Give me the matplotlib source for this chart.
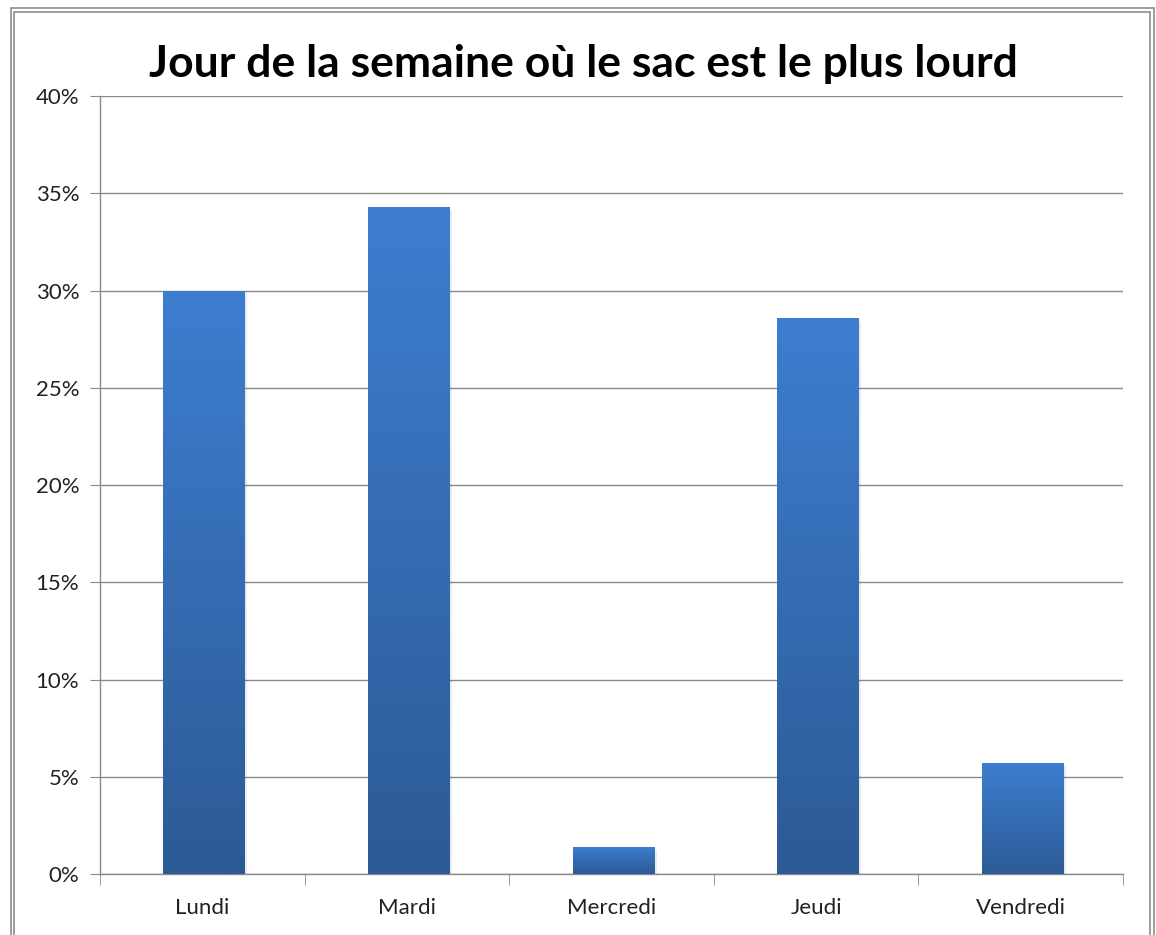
import numpy as np
import matplotlib.pyplot as plt
from matplotlib.patches import Rectangle
from matplotlib.colors import LinearSegmentedColormap

jours = ['Lundi', 'Mardi', 'Mercredi', 'Jeudi', 'Vendredi']
pourcentages = [30.0, 34.3, 1.4, 28.6, 5.7]
yticks = [0, 5, 10, 15, 20, 25, 30, 35, 40]

plt.rcParams['font.family'] = ['Lato', 'DejaVu Sans']

W, H = 1156, 935
fig = plt.figure(figsize=(W / 100, H / 100), dpi=100)

# cadre double autour du graphique (en pixels)
for left, top, right in [(10.5, 8.5, 1153.5), (14, 12, 1150)]:
    fig.patches.append(Rectangle((left / W, -0.05), (right - left) / W, 1 - top / H + 0.05,
                                 transform=fig.transFigure, fill=False,
                                 edgecolor='#8c8c8c', linewidth=1.2))

ax = fig.add_axes([0.0865, 0.0652, 0.885, 0.8321])
x = np.arange(len(jours))
bars = ax.bar(x + 0.01, pourcentages, width=0.4, color='none', zorder=3)

grad = LinearSegmentedColormap.from_list('bleu', ['#2c5a95', '#3d7ed0'])
g = np.linspace(0, 1, 256).reshape(-1, 1)
for b in bars:
    x0, y0 = b.get_x(), b.get_y()
    w, h = b.get_width(), b.get_height()
    # ombre legere
    ax.add_patch(Rectangle((x0 + 0.01, y0 - 0.15), w, h, facecolor='#000000',
                           alpha=0.08, edgecolor='none', zorder=2))
    im = ax.imshow(g, cmap=grad, origin='lower', aspect='auto',
                   extent=(x0, x0 + w, y0, y0 + h), zorder=3)
    im.set_clip_path(b)

ax.set_xlim(-0.5, len(jours) - 0.5)
ax.set_ylim(0, 40)
ax.set_yticks(yticks)
ax.set_yticklabels([f'{v}%' for v in yticks])
ax.set_xticks(x)
ax.set_xticklabels(jours)
ax.set_xticks(np.arange(-0.5, len(jours)), minor=True)
ax.tick_params(axis='x', which='major', length=0, pad=17, labelsize=16, labelcolor='#222222')
ax.tick_params(axis='x', which='minor', length=8, color='#888888', direction='out')
ax.tick_params(axis='y', length=7, color='#888888', direction='out', pad=8,
               labelsize=16, labelcolor='#222222')

ax.grid(axis='y', color='#8a8a8a', linewidth=1.0, zorder=1)
ax.set_axisbelow(True)
for s in ['top', 'right']:
    ax.spines[s].set_visible(False)
for s in ['left', 'bottom']:
    ax.spines[s].set_color('#8a8a8a')
    ax.spines[s].set_linewidth(1.0)

fig.text(0.505, 0.932, 'Jour de la semaine où le sac est le plus lourd',
         ha='center', va='center', fontsize=32, fontweight='bold', color='#000000')

fig.savefig('out.png', dpi=100, facecolor='white')
